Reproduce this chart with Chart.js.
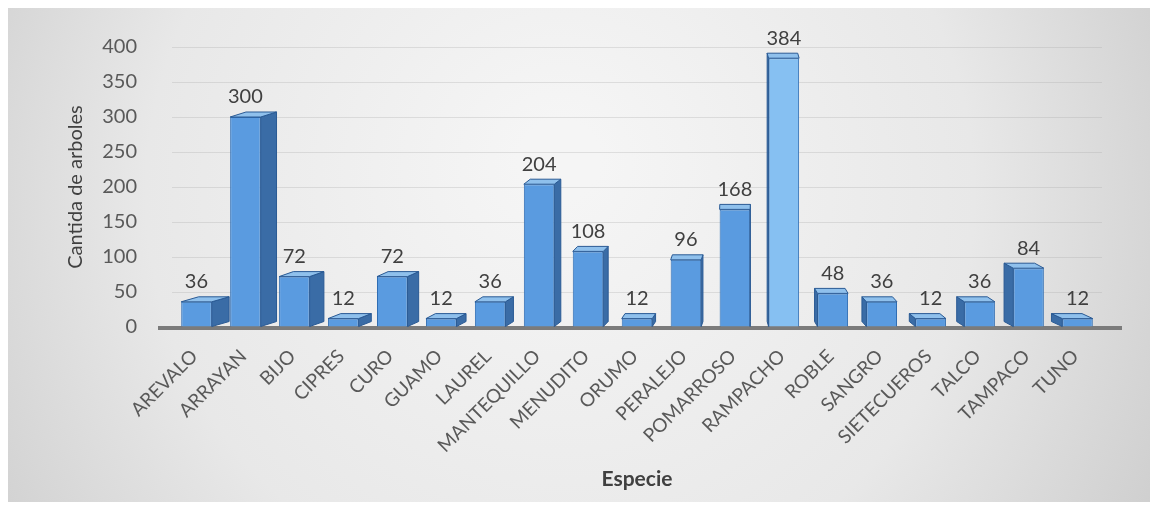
<!DOCTYPE html>
<html>
<head>
<meta charset="utf-8">
<script src="https://cdn.jsdelivr.net/npm/chart.js@4"></script>
<style>
  html, body { margin: 0; padding: 0; background: #ffffff; }
  #wrap { width: 1157px; height: 510px; }
</style>
</head>
<body>
<div id="wrap"><canvas id="especies-chart" width="1157" height="510"></canvas></div>
<script>
// Cantidad de arboles por especie
const species = ['AREVALO', 'ARRAYAN', 'BIJO', 'CIPRES', 'CURO', 'GUAMO', 'LAUREL', 'MANTEQUILLO',
    'MENUDITO', 'ORUMO', 'PERALEJO', 'POMARROSO', 'RAMPACHO', 'ROBLE', 'SANGRO', 'SIETECUEROS',
    'TALCO', 'TAMPACO', 'TUNO'];
const treeCounts = [36, 300, 72, 12, 72, 12, 36, 204, 108, 12, 96, 168, 384, 48, 36, 12, 36, 84, 12];
const yTicks = [0, 50, 100, 150, 200, 250, 300, 350, 400];

const FONT = 'Lato, "Liberation Sans", sans-serif';
const maxCount = Math.max(...treeCounts);

// gray panel behind the whole chart
const backgroundPlugin = {
    id: 'panel',
    beforeDraw(chart) {
        const ctx = chart.ctx;
        ctx.save();
        ctx.fillStyle = '#ffffff';
        ctx.fillRect(0, 0, chart.width, chart.height);
        const g = ctx.createRadialGradient(560, 160, 40, 560, 220, 720);
        g.addColorStop(0, '#f5f5f5');
        g.addColorStop(0.55, '#e8e8e8');
        g.addColorStop(1, '#c9c9c9');
        ctx.fillStyle = g;
        ctx.fillRect(8, 8, 1142, 494);
        ctx.restore();
    }
};

// fake 3D: side face + top face for every bar, floor line and value labels
const bars3dPlugin = {
    id: 'bars3d',
    beforeDatasetsDraw(chart) {
        const ctx = chart.ctx;
        const y0 = chart.scales.y.getPixelForValue(0);
        ctx.save();
        ctx.strokeStyle = '#7b7b7b';
        ctx.lineWidth = 4;
        ctx.beginPath();
        ctx.moveTo(chart.chartArea.left - 14, y0 + 1);
        ctx.lineTo(chart.chartArea.right + 20, y0 + 1);
        ctx.stroke();
        ctx.restore();
    },
    afterDatasetsDraw(chart) {
        const ctx = chart.ctx;
        const meta = chart.getDatasetMeta(0);
        const vp = 740;
        const dy = 5;
        ctx.save();
        meta.data.forEach((bar, i) => {
            const half = bar.width / 2;
            const left = bar.x - half;
            const right = bar.x + half;
            const top = bar.y;
            const base = bar.base;
            const dx = (vp - bar.x) * 0.032;

            // side face
            ctx.fillStyle = '#3a6ca6';
            ctx.strokeStyle = '#2a5a94';
            ctx.lineWidth = 1;
            ctx.beginPath();
            if (dx >= 0) {
                ctx.moveTo(right, top);
                ctx.lineTo(right + dx, top - dy);
                ctx.lineTo(right + dx, base - dy);
                ctx.lineTo(right, base);
            } else {
                ctx.moveTo(left, top);
                ctx.lineTo(left + dx, top - dy);
                ctx.lineTo(left + dx, base - dy);
                ctx.lineTo(left, base);
            }
            ctx.closePath();
            ctx.fill();
            ctx.stroke();

            // top face
            ctx.fillStyle = '#8fc0ec';
            ctx.beginPath();
            ctx.moveTo(left, top);
            ctx.lineTo(left + dx, top - dy);
            ctx.lineTo(right + dx, top - dy);
            ctx.lineTo(right, top);
            ctx.closePath();
            ctx.fill();
            ctx.stroke();

            // value label
            ctx.fillStyle = '#404040';
            ctx.font = '20px ' + FONT;
            ctx.textAlign = 'center';
            ctx.textBaseline = 'bottom';
            ctx.fillText(treeCounts[i], bar.x, top - 10);
        });
        ctx.restore();
    }
};

const ctx = document.getElementById('especies-chart').getContext('2d');
const chart = new Chart(ctx, {
    type: 'bar',
    data: {
        labels: species,
        datasets: [{
            label: 'Cantida de arboles',
            data: treeCounts,
            backgroundColor: c => c.raw === maxCount ? '#86c0f2' : '#5a9be0',
            borderColor: '#2f6db3',
            borderWidth: 1,
            categoryPercentage: 0.8,
            barPercentage: 0.78
        }]
    },
    options: {
        responsive: false,
        animation: false,
        devicePixelRatio: 1,
        layout: {
            padding: { left: 60, right: 55, top: 45, bottom: 14 }
        },
        plugins: {
            legend: { display: false },
            tooltip: { enabled: false }
        },
        scales: {
            x: {
                afterFit: function(scale) { scale.height = 169; },
                grid: { display: false },
                border: { display: false },
                ticks: {
                    autoSkip: false,
                    maxRotation: 45,
                    minRotation: 45,
                    labelOffset: -2,
                    padding: 10,
                    color: '#595959',
                    font: { family: FONT, size: 19 }
                },
                title: {
                    display: true,
                    text: 'Especie',
                    color: '#404040',
                    padding: { top: 4, bottom: 4 },
                    font: { family: FONT, size: 21, weight: 'bold' }
                }
            },
            y: {
                min: 0,
                max: 400,
                afterFit: function(scale) { scale.width = 112; },
                afterBuildTicks: function(scale) {
                    scale.ticks = yTicks.map(v => ({ value: v }));
                },
                grid: {
                    color: 'rgba(170, 170, 170, 0.3)',
                    drawTicks: false
                },
                border: { display: false },
                ticks: {
                    padding: 35,
                    color: '#595959',
                    font: { family: FONT, size: 20 }
                },
                title: {
                    display: true,
                    text: 'Cantida de arboles',
                    color: '#404040',
                    padding: { top: 4, bottom: 4 },
                    font: { family: FONT, size: 20 }
                }
            }
        }
    },
    plugins: [backgroundPlugin, bars3dPlugin]
});
</script>
</body>
</html>
